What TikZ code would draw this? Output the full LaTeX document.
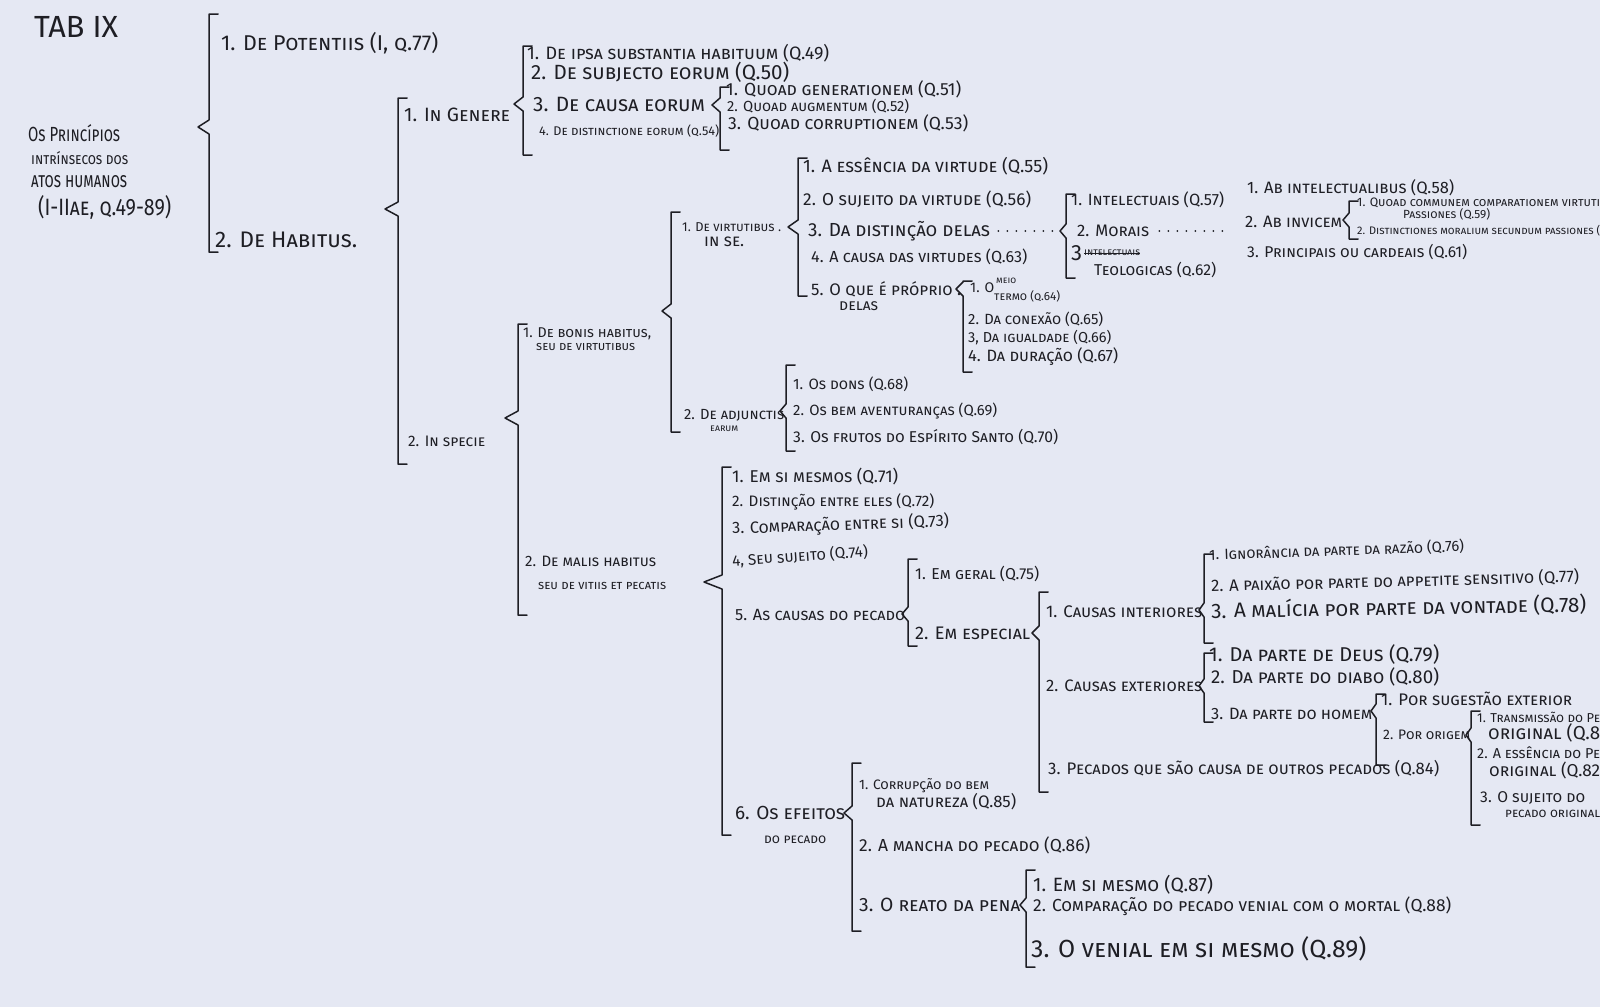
\documentclass[tikz,border=0pt]{standalone}
\usepackage{fontspec}
\setmainfont{Fira Sans}
\usepackage{graphicx}
\definecolor{paper}{HTML}{E5E8F3}
\definecolor{ink}{HTML}{1E1E24}
\tikzset{
  t/.style={anchor=west, inner sep=0pt, text=ink},
  br/.style={draw=ink, line width=1.5pt, line cap=round, line join=round},
  lead/.style={draw=ink, line width=2pt, dash pattern=on 0pt off 9pt, line cap=round},
}
\newcommand\tw[2]{\resizebox{#1pt}{!}{\scshape #2}}
\newcommand\twh[3]{\resizebox{#1pt}{#2pt}{\scshape #3}}
% x, ytop, ybot, ytip, xtip
\newcommand\brk[5]{\draw[br] (#1+9,#2) -- (#1,#2) -- (#1,#4-7) -- (#5,#4) -- (#1,#4+7) -- (#1,#3) -- (#1+9,#3);}
\begin{document}
\begin{tikzpicture}[x=1pt,y=-1pt]
\useasboundingbox (0,0) rectangle (1600,1007);
\fill[paper] (0,0) rectangle (1600,1007);

% title
\node[t] (tab) at (34,27) {\resizebox{84pt}{!}{TAB IX}};
\node[t] (ti1) at (28,133) {\twh{92}{17}{Os Princípios}};
\node[t] (ti2) at (31,158) {\twh{97}{13}{intrínsecos dos}};
\node[t] (ti3) at (31,182) {\twh{96}{12}{atos humanos}};
\node[t] (ti4) at (38,207) {\twh{133}{20}{(I-IIae, q.49-89)}};

% level 1
\brk{209}{14}{252}{127}{198}
\node[t] (pot) at (221,43) {\tw{217}{1. De Potentiis (I, q.77)}};
\node[t] (hab) at (215,240) {\tw{142}{2. De Habitus.}};

% De Habitus
\brk{398}{98}{464}{209}{385}
\node[t] (gen) at (404,115) {\tw{106}{1. In Genere}};
\node[t] (spe) at (408,441) {\tw{77}{2. In specie}};

% In genere
\brk{523}{46}{155}{104}{514}
\node[t] (g1) at (527,53) {\tw{302}{1. De ipsa substantia habituum (Q.49)}};
\node[t] (g2) at (531,72) {\tw{258}{2. De subjecto eorum (Q.50)}};
\node[t] (g3) at (533,104) {\tw{172}{3. De causa eorum}};
\node[t] (g4) at (539,131) {\tw{180}{4. De distinctione eorum (q.54)}};

\brk{720}{87}{150}{105}{712}
\node[t] (c1) at (726,89) {\tw{235}{1. Quoad generationem (Q.51)}};
\node[t] (c2) at (727,106) {\tw{182}{2. Quoad augmentum (Q.52)}};
\node[t] (c3) at (728,123) {\tw{240}{3. Quoad corruptionem (Q.53)}};

% In specie
\brk{518}{324}{615}{418}{505}
\node[t] (bon1) at (523,334) {\tw{128}{1. De bonis habitus,}};
\node[t] (bon2) at (536,347) {\tw{99}{seu de virtutibus}};
\node[t] (mal1) at (525,561) {\tw{131}{2. De malis habitus}};
\node[t] (mal2) at (538,586) {\tw{128}{seu de vitiis et pecatis}};

% De bonis habitus
\brk{671}{212}{432}{311}{662}
\node[t] (vir1) at (682,227) {\tw{99}{1. De virtutibus .}};
\node[t] (vir2) at (704,242) {\tw{40}{in se.}};
\node[t] (adj1) at (684,415) {\tw{100}{2. De adjunctis}};
\node[t] (adj2) at (710,429) {\tw{28}{earum}};

% De virtutibus in se
\brk{798}{158}{296}{227}{788}
\node[t] (v1) at (803,166) {\tw{245}{1. A essência da virtude (Q.55)}};
\node[t] (v2) at (803,199) {\tw{228}{2. O sujeito da virtude (Q.56)}};
\node[t] (v3) at (808,231) {\tw{182}{3. Da distinção delas}};
\node[t] (v4) at (811,257) {\tw{216}{4. A causa das virtudes (Q.63)}};
\node[t] (v5a) at (811,289) {\tw{150}{5. O que é próprio .}};
\node[t] (v5b) at (839,306) {\tw{39}{delas}};

% Da distincao delas
\coordinate (distip) at (1056,231);
\draw[lead] ([xshift=8pt]v3.east) -- (distip);
\brk{1066}{194}{278}{231}{1060}
\node[t] (d1) at (1071,200) {\tw{153}{1. Intelectuais (Q.57)}};
\node[t] (d2) at (1077,231) {\tw{72}{2. Morais}};
\node[t] (d3) at (1071,253) {\tw{11}{3}};
\node[t] (d3s) at (1084,253) {\tw{56}{intelectuais}};
\draw[ink, line width=1pt] (d3s.west) -- (d3s.east);
\node[t] (d3b) at (1094,270) {\tw{122}{Teologicas (q.62)}};

% Morais
\coordinate (morend) at (1226,231);
\draw[lead] ([xshift=10pt]d2.east) -- (morend);
\node[t] (m1) at (1247,188) {\tw{207}{1. Ab intelectualibus (Q.58)}};
\node[t] (m2) at (1245,222) {\tw{97}{2. Ab invicem}};
\node[t] (m3) at (1247,252) {\tw{220}{3. Principais ou cardeais (Q.61)}};

\brk{1349}{201}{239}{220}{1343}
\node[t] (i1a) at (1357,203) {\tw{243}{1. Quoad communem comparationem virtuti}};
\node[t] (i1b) at (1403,214) {\tw{87}{Passiones (Q.59)}};
\node[t] (i2) at (1357,231) {\tw{243}{2. Distinctiones moralium secundum passiones (}};

% O que e proprio delas
\brk{963}{281}{372}{289}{956}
\node[t] (p1a) at (970,288) {\tw{24}{1. O}};
\node[t] (p1b) at (996,281) {\tw{20}{meio}};
\node[t] (p1c) at (994,296) {\tw{66}{termo (q.64)}};
\node[t] (p2) at (968,319) {\tw{135}{2. Da conexão (Q.65)}};
\node[t] (p3) at (968,338) {\tw{143}{3, Da igualdade (Q.66)}};
\node[t] (p4) at (968,357) {\tw{150}{4. Da duração (Q.67)}};

% De adjunctis earum
\brk{786}{365}{451}{411}{780}
\node[t] (a1) at (793,384) {\tw{115}{1. Os dons (Q.68)}};
\node[t] (a2) at (793,411) {\tw{204}{2. Os bem aventuranças (Q.69)}};
\node[t] (a3) at (793,437) {\tw{265}{3. Os frutos do Espírito Santo (Q.70)}};

% De malis habitus
\brk{722}{467}{835}{582}{704}
\node[t] (e1) at (732,477) {\tw{166}{1. Em si mesmos (Q.71)}};
\node[t] (e2) at (732,502) {\tw{202}{2. Distinção entre eles (Q.72)}};
\node[t, rotate=2] (e3) at (732,529) {\tw{217}{3. Comparação entre si (Q.73)}};
\node[t, rotate=4] (e4) at (732,561) {\tw{136}{4, Seu sujeito (Q.74)}};
\node[t] (e5) at (735,615) {\tw{170}{5. As causas do pecado}};
\node[t] (e6a) at (735,813) {\tw{110}{6. Os efeitos}};
\node[t] (e6b) at (764,840) {\tw{62}{do pecado}};

% As causas do pecado
\brk{908}{559}{646}{614}{902}
\node[t] (k1) at (915,574) {\tw{124}{1. Em geral (Q.75)}};
\node[t] (k2) at (915,633) {\tw{115}{2. Em especial}};

% Em especial
\brk{1039}{592}{792}{633}{1032}
\node[t] (s1) at (1046,612) {\tw{156}{1. Causas interiores}};
\node[t] (s2) at (1046,686) {\tw{156}{2. Causas exteriores}};
\node[t] (s3) at (1048,769) {\tw{391}{3. Pecados que são causa de outros pecados (Q.84)}};

% Causas interiores
\brk{1204}{554}{643}{610}{1199}
\node[t, rotate=2] (n1) at (1209,555) {\tw{255}{1. Ignorância da parte da razão (Q.76)}};
\node[t, rotate=1.5] (n2) at (1211,586) {\tw{368}{2. A paixão por parte do appetite sensitivo (Q.77)}};
\node[t, rotate=1] (n3) at (1211,611) {\tw{375}{3. A malícia por parte da vontade (Q.78)}};

% Causas exteriores
\brk{1204}{653}{722}{686}{1199}
\node[t] (x1) at (1209,654) {\tw{230}{1. Da parte de Deus (Q.79)}};
\node[t] (x2) at (1211,677) {\tw{228}{2. Da parte do diabo (Q.80)}};
\node[t] (x3) at (1211,714) {\tw{161}{3. Da parte do homem}};

% Da parte do homem
\brk{1376}{694}{765}{711}{1371}
\node[t] (h1) at (1381,699) {\tw{191}{1. Por sugestão exterior}};
\node[t] (h2) at (1383,735) {\tw{87}{2. Por origem}};

% Por origem
\brk{1471}{711}{825}{735}{1466}
\node[t] (o1a) at (1477,717) {\tw{123}{1. Transmissão do Pe}};
\node[t] (o1b) at (1488,733) {\tw{112}{original (Q.8}};
\node[t] (o2a) at (1477,753) {\tw{123}{2. A essência do Pe}};
\node[t] (o2b) at (1489,770) {\tw{111}{original (Q.82}};
\node[t] (o3a) at (1480,798) {\tw{105}{3. O sujeito do}};
\node[t] (o3b) at (1505,814) {\tw{95}{pecado original}};

% Os efeitos do pecado
\brk{852}{763}{931}{813}{844}
\node[t] (f1a) at (859,786) {\tw{130}{1. Corrupção do bem}};
\node[t] (f1b) at (876,802) {\tw{140}{da natureza (Q.85)}};
\node[t] (f2) at (859,845) {\tw{231}{2. A mancha do pecado (Q.86)}};
\node[t] (f3) at (859,905) {\tw{161}{3. O reato da pena}};

% O reato da pena
\brk{1026}{870}{967}{905}{1020}
\node[t] (r1) at (1033,885) {\tw{180}{1. Em si mesmo (Q.87)}};
\node[t] (r2) at (1033,906) {\tw{418}{2. Comparação do pecado venial com o mortal (Q.88)}};
\node[t] (r3) at (1031,949) {\tw{335}{3. O venial em si mesmo (Q.89)}};
\end{tikzpicture}
\end{document}
